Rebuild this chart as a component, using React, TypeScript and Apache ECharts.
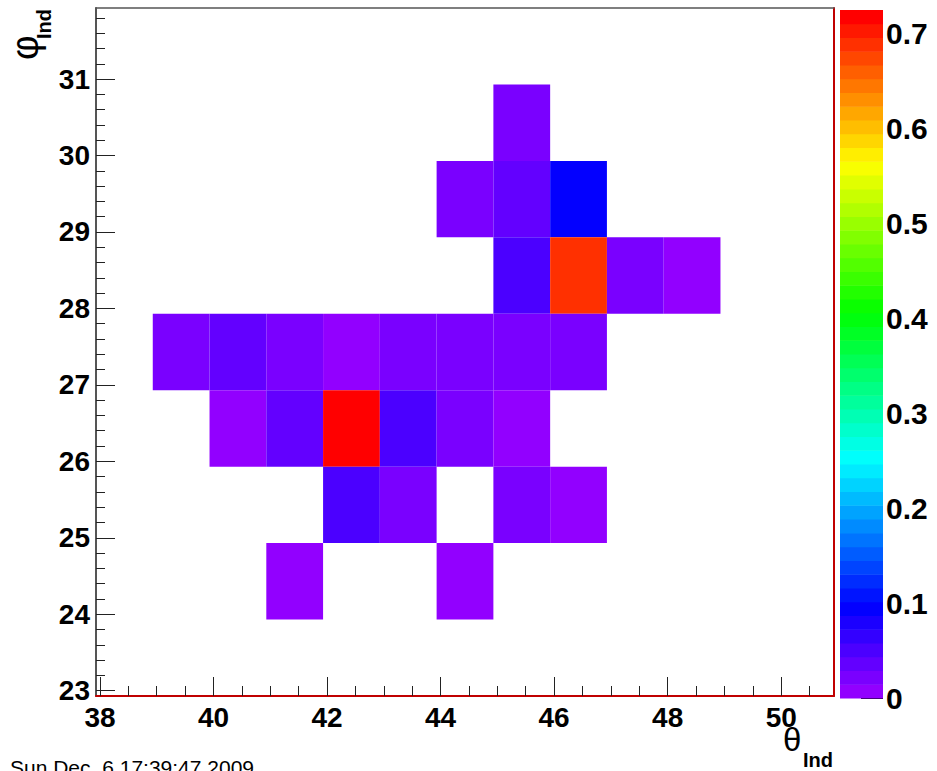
import React, { useEffect, useRef } from "react";
import * as echarts from "echarts";

// ---- data ----
const thetaTicks = [38, 40, 42, 44, 46, 48, 50];
const phiTicks = [23, 24, 25, 26, 27, 28, 29, 30, 31];
const zTicks = [0, 0.1, 0.2, 0.3, 0.4, 0.5, 0.6, 0.7];
const thetaMin = 37.93;
const thetaMax = 50.93;
const phiMin = 22.93;
const phiMax = 31.93;
const zMax = 0.725;
const binWidth = 1;

// bins given by their lower edges (theta, phi) and content
const cellTheta = [
  44.93,
  43.93, 44.93, 45.93,
  44.93, 45.93, 46.93, 47.93,
  38.93, 39.93, 40.93, 41.93, 42.93, 43.93, 44.93, 45.93,
  39.93, 40.93, 41.93, 42.93, 43.93, 44.93,
  41.93, 42.93, 44.93, 45.93,
  40.93, 43.93,
];
const cellPhi = [
  29.93,
  28.93, 28.93, 28.93,
  27.93, 27.93, 27.93, 27.93,
  26.93, 26.93, 26.93, 26.93, 26.93, 26.93, 26.93, 26.93,
  25.93, 25.93, 25.93, 25.93, 25.93, 25.93,
  24.93, 24.93, 24.93, 24.93,
  23.93, 23.93,
];
const cellValue = [
  0.02,
  0.02, 0.035, 0.095,
  0.05, 0.69, 0.02, 0.01,
  0.02, 0.035, 0.02, 0.01, 0.02, 0.02, 0.02, 0.02,
  0.01, 0.035, 0.725, 0.05, 0.027, 0.01,
  0.05, 0.02, 0.02, 0.01,
  0.01, 0.01,
];

const dateText = "Sun Dec \u00a06 17:39:47 2009";

// ---- ROOT "pretty" palette (50 colours, violet -> red) ----
const nColors = 50;
function hueToHex(h: number): string {
  const seg = h / 60;
  const x = 1 - Math.abs((seg % 2) - 1);
  let r = 0, g = 0, b = 0;
  if (seg < 1) { r = 1; g = x; }
  else if (seg < 2) { r = x; g = 1; }
  else if (seg < 3) { g = 1; b = x; }
  else if (seg < 4) { g = x; b = 1; }
  else if (seg < 5) { r = x; b = 1; }
  else { r = 1; b = x; }
  const c = (v: number) => Math.round(v * 255).toString(16).padStart(2, "0");
  return "#" + c(r) + c(g) + c(b);
}
function paletteColor(i: number): string {
  const hue = i >= nColors - 1 ? 0 : 280 - (i + 1) * (280 / nColors);
  return hueToHex(hue);
}
function valueColor(v: number): string {
  let i = Math.floor(0.01 + (v / zMax) * nColors);
  if (i > nColors - 1) i = nColors - 1;
  if (i < 0) i = 0;
  return paletteColor(i);
}

export default function App() {
  const ref = useRef<HTMLDivElement>(null);

  useEffect(() => {
    if (!ref.current) return;
    const chart = echarts.init(ref.current, undefined, { renderer: "svg" });

    const cells = cellTheta.map((t, k) => [t, cellPhi[k], cellValue[k]]);

    const thetaMinor: number[] = [];
    for (let t = thetaTicks[0]; t <= thetaMax; t += 0.5) {
      if (!thetaTicks.includes(t)) thetaMinor.push(t);
    }
    const phiMinor: number[] = [];
    phiTicks.forEach((p) => {
      for (let k = 1; k < 5; k++) {
        const v = Math.round((p + k * 0.2) * 100) / 100;
        if (v < phiMax) phiMinor.push(v);
      }
    });

    const bands = [];
    for (let i = 0; i < nColors; i++) {
      bands.push([(i * zMax) / nColors, ((i + 1) * zMax) / nColors, i]);
    }

    const font = "'Liberation Sans', Arial, Helvetica, sans-serif";
    const labelStyle = {
      fontSize: 28,
      fontWeight: "bold" as const,
      fontFamily: font,
      color: "#000",
    };

    chart.setOption({
      animation: false,
      backgroundColor: "#fff",
      grid: [
        { left: 96, right: 103, top: 8, bottom: 75, outerBoundsMode: "none", containLabel: false },
        { left: 840, right: 54, top: 10, bottom: 73, outerBoundsMode: "none", containLabel: false },
      ],
      xAxis: [
        {
          type: "value", gridIndex: 0, min: thetaMin, max: thetaMax, position: "bottom",
          axisLine: { show: true, onZero: false, lineStyle: { color: "#c00000", width: 2 } },
          axisTick: { show: true, inside: true, length: 19, customValues: thetaTicks, lineStyle: { color: "#222", width: 1 } },
          axisLabel: { show: true, customValues: thetaTicks, margin: 7, ...labelStyle },
          splitLine: { show: false },
        },
        {
          type: "value", gridIndex: 0, min: thetaMin, max: thetaMax, position: "bottom",
          axisLine: { show: false, onZero: false },
          axisTick: { show: true, inside: true, length: 10, customValues: thetaMinor, lineStyle: { color: "#222", width: 1 } },
          axisLabel: { show: false },
          splitLine: { show: false },
        },
        {
          type: "value", gridIndex: 0, min: thetaMin, max: thetaMax, position: "top",
          axisLine: { show: true, onZero: false, lineStyle: { color: "#555", width: 1.5 } },
          axisTick: { show: false },
          axisLabel: { show: false },
          splitLine: { show: false },
        },
        {
          type: "value", gridIndex: 1, min: 0, max: 1, show: false,
        },
      ],
      yAxis: [
        {
          type: "value", gridIndex: 0, min: phiMin, max: phiMax, position: "left",
          axisLine: { show: true, onZero: false, lineStyle: { color: "#555", width: 2 } },
          axisTick: { show: true, inside: true, length: 19, customValues: phiTicks, lineStyle: { color: "#222", width: 1 } },
          axisLabel: { show: true, customValues: phiTicks, margin: 6, ...labelStyle },
          splitLine: { show: false },
        },
        {
          type: "value", gridIndex: 0, min: phiMin, max: phiMax, position: "left",
          axisLine: { show: false, onZero: false },
          axisTick: { show: true, inside: true, length: 9, customValues: phiMinor, lineStyle: { color: "#222", width: 1 } },
          axisLabel: { show: false },
          splitLine: { show: false },
        },
        {
          type: "value", gridIndex: 0, min: phiMin, max: phiMax, position: "right",
          axisLine: { show: true, onZero: false, lineStyle: { color: "#c00000", width: 2 } },
          axisTick: { show: false },
          axisLabel: { show: false },
          splitLine: { show: false },
        },
        {
          type: "value", gridIndex: 1, min: 0, max: zMax, position: "right",
          axisLine: { show: false, onZero: false },
          axisTick: { show: true, inside: true, length: 22, customValues: zTicks, lineStyle: { color: "#000", width: 1 } },
          axisLabel: {
            show: true, customValues: zTicks, margin: 3, ...labelStyle, fontSize: 30,
            formatter: (v: number) => String(Math.round(v * 10) / 10),
          },
          splitLine: { show: false },
        },
      ],
      series: [
        {
          type: "custom",
          name: "hist",
          xAxisIndex: 0,
          yAxisIndex: 0,
          data: cells,
          encode: { x: 0, y: 1 },
          clip: true,
          renderItem: (params: any, api: any) => {
            const x0 = api.value(0);
            const y0 = api.value(1);
            const v = api.value(2);
            const p1 = api.coord([x0, y0 + binWidth]);
            const p2 = api.coord([x0 + binWidth, y0]);
            return {
              type: "rect",
              shape: { x: p1[0], y: p1[1], width: p2[0] - p1[0], height: p2[1] - p1[1] },
              style: { fill: valueColor(v) },
            };
          },
        },
        {
          type: "custom",
          name: "palette",
          xAxisIndex: 3,
          yAxisIndex: 3,
          data: bands,
          encode: { y: [0, 1] },
          renderItem: (params: any, api: any) => {
            const lo = api.value(0);
            const hi = api.value(1);
            const i = api.value(2);
            const p1 = api.coord([0, hi]);
            const p2 = api.coord([1, lo]);
            return {
              type: "rect",
              shape: { x: p1[0], y: p1[1], width: p2[0] - p1[0], height: p2[1] - p1[1] + 0.5 },
              style: { fill: paletteColor(i) },
              z2: -1,
            };
          },
        },
      ],
      graphic: [
        {
          type: "text", x: 783, y: 723,
          style: { text: "θ", fontSize: 33, fontFamily: font, fill: "#000", align: "left", verticalAlign: "top" },
        },
        {
          type: "text", x: 803, y: 750,
          style: { text: "Ind", fontSize: 20, fontWeight: "bold", fontFamily: font, fill: "#000", align: "left", verticalAlign: "top" },
        },
        {
          type: "text", x: 6, y: 60, rotation: Math.PI / 2,
          style: { text: "φ", fontSize: 38, fontFamily: font, fill: "#000", align: "left", verticalAlign: "top" },
        },
        {
          type: "text", x: 34, y: 39, rotation: Math.PI / 2,
          style: { text: "Ind", fontSize: 20, fontWeight: "bold", fontFamily: font, fill: "#000", align: "left", verticalAlign: "top" },
        },
        {
          type: "text", x: 10, y: 757,
          style: { text: dateText, fontSize: 21, fontFamily: font, fill: "#000", align: "left", verticalAlign: "top" },
        },
      ],
    });

    return () => chart.dispose();
  }, []);

  return (
    <div
      ref={ref}
      style={{ position: "fixed", left: 0, top: 0, width: 937, height: 771, background: "#fff" }}
    />
  );
}
